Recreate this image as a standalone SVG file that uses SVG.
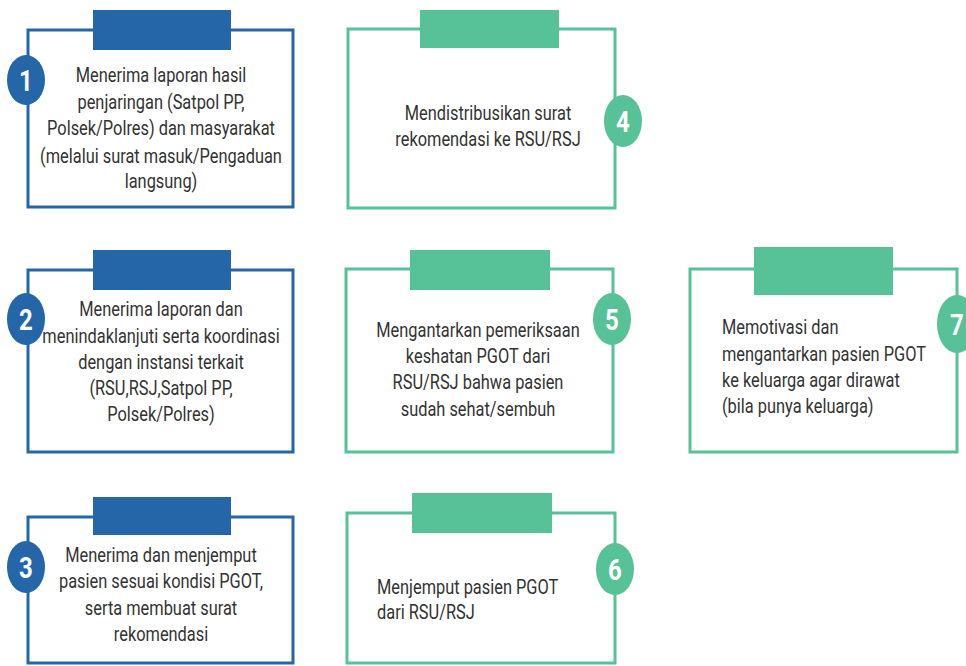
<svg xmlns="http://www.w3.org/2000/svg" width="966" height="666" viewBox="0 0 966 666">
<style>
.bb{fill:#fff;stroke:#2466a8;stroke-width:3}
.gb{fill:#fff;stroke:#57c197;stroke-width:3}
.bt{fill:#2466a8}
.gt{fill:#57c197}
.t{font-family:Roboto,"Liberation Sans",sans-serif;font-size:20px;fill:#333}
.n{font-family:Roboto,"Liberation Sans",sans-serif;font-size:30px;font-weight:bold;fill:#fff;text-anchor:middle}
.c{text-anchor:middle}
</style>
<rect width="966" height="666" fill="#fff"/>
<g id="connectors"></g>
<g id="node1">
<rect class="bb" x="28" y="30" width="265" height="177"/>
<rect class="bt" x="93" y="10" width="138" height="40"/>
<ellipse class="bt" cx="26" cy="80" rx="19" ry="25"/>
<text class="n" transform="translate(26,91) scale(0.8,1)">1</text>
<g transform="translate(161,0) scale(0.82,1)">
<text class="t c" x="0" y="82">Menerima laporan hasil</text>
<text class="t c" x="0" y="109">penjaringan (Satpol PP,</text>
<text class="t c" x="0" y="135">Polsek/Polres) dan masyarakat</text>
<text class="t c" x="0" y="163">(melalui surat masuk/Pengaduan</text>
<text class="t c" x="0" y="188">langsung)</text>
</g>
</g>
<g id="node2">
<rect class="bb" x="28" y="270" width="265" height="182"/>
<rect class="bt" x="93" y="250" width="138" height="40"/>
<ellipse class="bt" cx="26" cy="319" rx="19" ry="26"/>
<text class="n" transform="translate(26,330) scale(0.8,1)">2</text>
<g transform="translate(161,0) scale(0.82,1)">
<text class="t c" x="0" y="316">Menerima laporan dan</text>
<text class="t c" x="0" y="343">menindaklanjuti serta koordinasi</text>
<text class="t c" x="0" y="369">dengan instansi terkait</text>
<text class="t c" x="0" y="395">(RSU,RSJ,Satpol PP,</text>
<text class="t c" x="0" y="421">Polsek/Polres)</text>
</g>
</g>
<g id="node3">
<rect class="bb" x="28" y="517" width="265" height="146"/>
<rect class="bt" x="93" y="497" width="138" height="38"/>
<ellipse class="bt" cx="26" cy="567" rx="19" ry="26"/>
<text class="n" transform="translate(26,578) scale(0.8,1)">3</text>
<g transform="translate(161,0) scale(0.82,1)">
<text class="t c" x="0" y="562">Menerima dan menjemput</text>
<text class="t c" x="0" y="588">pasien sesuai kondisi PGOT,</text>
<text class="t c" x="0" y="615">serta membuat surat</text>
<text class="t c" x="0" y="641">rekomendasi</text>
</g>
</g>
<g id="node4">
<rect class="gb" x="348" y="29" width="267" height="179"/>
<rect class="gt" x="420" y="10" width="139" height="38"/>
<ellipse class="gt" cx="623" cy="121" rx="19" ry="26"/>
<text class="n" transform="translate(623,132) scale(0.8,1)">4</text>
<g transform="translate(488,0) scale(0.82,1)">
<text class="t c" x="0" y="120">Mendistribusikan surat</text>
<text class="t c" x="0" y="146">rekomendasi ke RSU/RSJ</text>
</g>
</g>
<g id="node5">
<rect class="gb" x="346" y="269" width="267" height="183"/>
<rect class="gt" x="410" y="250" width="140" height="40"/>
<ellipse class="gt" cx="612" cy="319" rx="19" ry="26"/>
<text class="n" transform="translate(612,330) scale(0.8,1)">5</text>
<g transform="translate(478,0) scale(0.82,1)">
<text class="t c" x="0" y="337">Mengantarkan pemeriksaan</text>
<text class="t c" x="0" y="363">keshatan PGOT dari</text>
<text class="t c" x="0" y="389">RSU/RSJ bahwa pasien</text>
<text class="t c" x="0" y="416">sudah sehat/sembuh</text>
</g>
</g>
<g id="node6">
<rect class="gb" x="347" y="513" width="268" height="150"/>
<rect class="gt" x="412" y="493" width="140" height="40"/>
<ellipse class="gt" cx="615" cy="569" rx="19" ry="26"/>
<text class="n" transform="translate(615,580) scale(0.8,1)">6</text>
<g transform="translate(377,0) scale(0.82,1)">
<text class="t" x="0" y="594">Menjemput pasien PGOT</text>
<text class="t" x="0" y="619">dari RSU/RSJ</text>
</g>
</g>
<g id="node7">
<rect class="gb" x="690" y="269" width="267" height="183"/>
<rect class="gt" x="754" y="247" width="139" height="48"/>
<ellipse class="gt" cx="957" cy="324" rx="20" ry="29"/>
<text class="n" transform="translate(957,335) scale(0.8,1)">7</text>
<g transform="translate(722,0) scale(0.82,1)">
<text class="t" x="0" y="334">Memotivasi dan</text>
<text class="t" x="0" y="361">mengantarkan pasien PGOT</text>
<text class="t" x="0" y="387">ke keluarga agar dirawat</text>
<text class="t" x="0" y="413">(bila punya keluarga)</text>
</g>
</g>
</svg>
